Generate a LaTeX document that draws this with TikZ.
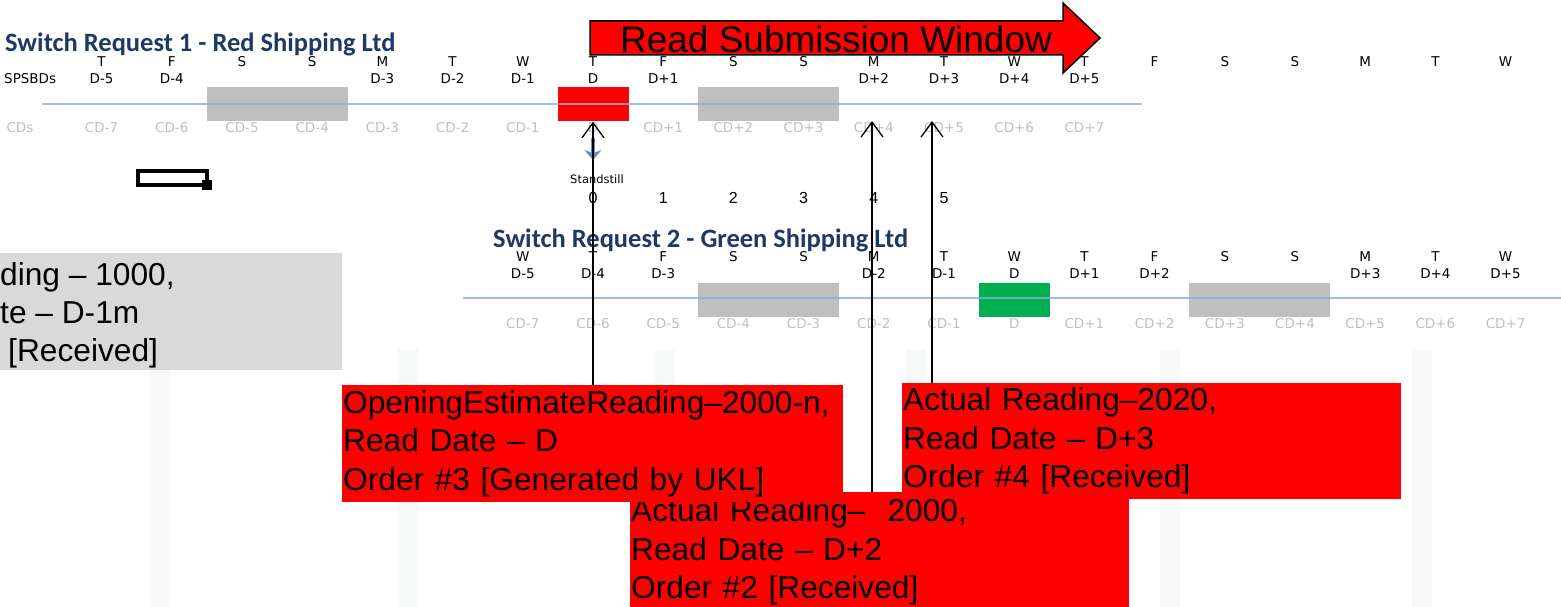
\documentclass[tikz,border=0pt]{standalone}
\usepackage{fontspec}
\setmainfont{Liberation Sans}
\newfontfamily\daysfont{DejaVu Sans}
\newfontfamily\titlefont{Carlito}
\usepackage{tikz}
\usetikzlibrary{arrows.meta,positioning}
\definecolor{hdrblue}{HTML}{1F3864}
\definecolor{tlblue}{HTML}{8EAADB}
\definecolor{cdgray}{HTML}{BFBFBF}
\definecolor{wkgray}{HTML}{BFBFBF}
\definecolor{oldgray}{HTML}{D9D9D9}
\definecolor{okgreen}{HTML}{00B050}
\definecolor{ssblue}{HTML}{5B8BD0}
\definecolor{stripe}{HTML}{F7F8F8}
\tikzset{
  dayl/.style={font=\daysfont\fontsize{13.5}{13.5}\selectfont, inner sep=0, text height=1.5ex, text depth=.25ex},
  cdl/.style={dayl, text=cdgray}
}
\tikzset{
  hdr/.style={font=\titlefont\bfseries\fontsize{26.5}{26.5}\selectfont, text=hdrblue, anchor=west, inner sep=0}
}
\tikzset{
  wkend/.style={fill=wkgray, minimum width=141pt, minimum height=34pt, inner sep=0},
  dayd/.style={minimum width=71pt, minimum height=34pt, inner sep=0}
}
\tikzset{
  callout/.style={fill=red, anchor=north west, align=left, inner xsep=1pt, inner ysep=0,
    font=\fontsize{31.7}{38.5}\selectfont},
  tline/.style={draw=tlblue, line width=2pt, opacity=.8},
  readarr/.style={draw=black, line width=1.3pt, -{Straight Barb[length=15pt,width=22pt]}}
}

\begin{document}
\begin{tikzpicture}[x=1pt, y=-1pt]
  \useasboundingbox (0,0) rectangle (1561,607);
  \foreach \sx in {150,398,655,906,1160,1412}
    \fill[stripe] (\sx,349) rectangle ++(20,258);

  % switch request 1
  \node[hdr] (sr1) at (5,44) {Switch Request 1 - Red Shipping Ltd};
  \node[wkend] (sr1we1) at (277.5,104.5) {};
  \node[wkend] (sr1we2) at (768.5,104.5) {};
  \node[dayd, fill=red] (sr1D) at (593,104.5) {};
  \draw[tline] (42,104) -- (1142,104);
  \foreach \d [count=\k from -7] in {T,F,S,S,M,T,W,T,F,S,S,M,T,W,T,F,S,S,M,T,W}
    \node[dayl] (sr1day\k) at ({593+70.2*\k},63) {\d};
  \node[dayl, anchor=west] (sr1spsbd) at (4,80) {SPSBDs};
  \foreach \k/\t in {-7/D-5,-6/D-4,-3/D-3,-2/D-2,-1/D-1,0/D,1/D+1,4/D+2,5/D+3,6/D+4,7/D+5}
    \node[dayl] (sr1sp\k) at ({593+70.2*\k},80) {\t};
  \node[cdl] (sr1cds) at (20,129) {CDs};
  \foreach \k in {-7,...,7}
    \node[cdl] (sr1cd\k) at ({593+70.2*\k},129) {\ifnum\k<0 CD\k\else\ifnum\k=0 D\else CD+\k\fi\fi};

  \draw[line width=4pt] (138,171) rectangle (207,185);
  \fill (202,180) rectangle (212,190);

  % standstill
  \node[dayl, font=\daysfont\fontsize{11.5}{11.5}\selectfont] (stand) at (597,180) {Standstill};
  \coordinate (ssTop) at (593,138);
  \coordinate (ssTip) at (593,160);
  \draw[ssblue, line width=4pt, -{Stealth[length=10pt,width=17pt]}] (ssTop) -- (ssTip);
  \foreach \k in {0,...,5}
    \node[font=\fontsize{16}{16}\selectfont, inner sep=0] (sscount\k) at ({593+70.2*\k},198) {\k};

  % switch request 2
  \node[hdr] (sr2) at (493,240) {Switch Request 2 - Green Shipping Ltd};
  \node[wkend] (sr2we1) at (768.5,300) {};
  \node[wkend] (sr2we2) at (1259.9,300) {};
  \node[dayd, fill=okgreen] (sr2D) at (1014.2,300) {};
  \draw[tline] (463,298) -- (1561,298);
  \foreach \d [count=\k from -1] in {W,T,F,S,S,M,T,W,T,F,S,S,M,T,W}
    \node[dayl] (sr2day\k) at ({593+70.2*\k},258) {\d};
  \foreach \k/\t in {-1/D-5,0/D-4,1/D-3,4/D-2,5/D-1,6/D,7/D+1,8/D+2,11/D+3,12/D+4,13/D+5}
    \node[dayl] (sr2sp\k) at ({593+70.2*\k},275) {\t};
  \foreach \k in {-1,...,13}{
    \pgfmathtruncatemacro\n{\k-6}
    \node[cdl] (sr2cd\k) at ({593+70.2*\k},325) {\ifnum\n<0 CD\n\else\ifnum\n=0 D\else CD+\n\fi\fi};
  }

  % read submission window
  \draw[fill=red, line width=1.5pt, line join=miter] (590,21) -- (1063,21) -- (1063,3) -- (1100,38)
    -- (1063,73) -- (1063,55) -- (590,55) -- cycle;
  \node[font=\fontsize{37}{37}\selectfont, inner sep=0] (rsw) at (836,39) {Read Submission Window};

  % readings
  \node[fill=oldgray, minimum width=342pt, minimum height=117pt, anchor=north west, inner sep=0] (oldrd) at (0,253) {};
  \node[anchor=north west, align=left, inner sep=0, font=\fontsize{31.7}{38}\selectfont] (oldtxt) at (0,262)
    {ding – 1000,\\te – D-1m\\\hspace*{8pt}[Received]};
  \node[callout, text width=497pt, minimum height=120pt] (rd2000) at (630,492)
    {Actual Reading–\hspace{22pt}2000,\\Read Date – D+2\\Order \#2 [Received]};
  \node[callout, text width=499pt, minimum height=117pt] (openest) at (342,385)
    {OpeningEstimateReading–2000-n,\\Read Date – D\\Order \#3 [Generated by UKL]};
  \node[callout, text width=497pt, minimum height=116pt] (act2020) at (902,383)
    {Actual Reading–2020,\\Read Date – D+3\\Order \#4 [Received]};

  \coordinate (tip2) at (872,121);
  \coordinate (tip3) at (932,121);
  \draw[readarr] (openest.north -| sr1D) -- (sr1D.south);
  \draw[readarr] (rd2000.north -| tip2) -- (tip2);
  \draw[readarr] (act2020.north -| tip3) -- (tip3);
\end{tikzpicture}
\end{document}
